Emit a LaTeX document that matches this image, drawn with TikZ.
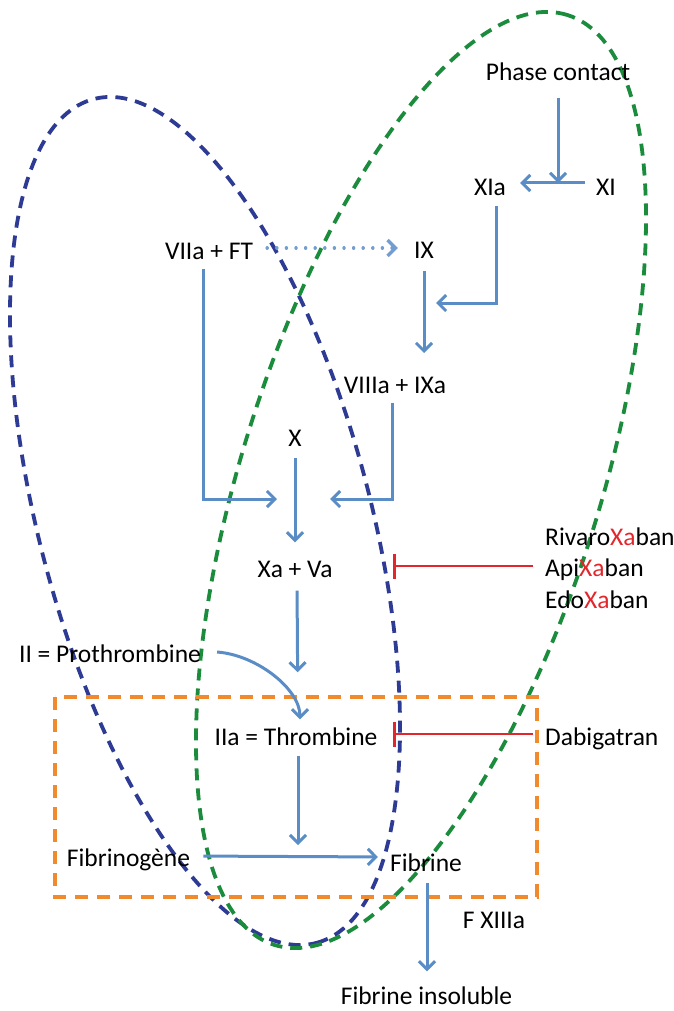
\documentclass[tikz,border=0pt]{standalone}
\usepackage{fontspec}
\setmainfont{Carlito}
\usetikzlibrary{arrows.meta}
\definecolor{arrblue}{HTML}{5A8CC6}
\definecolor{ellblue}{HTML}{2E3B94}
\definecolor{ellgreen}{HTML}{1A8C3C}
\definecolor{boxorange}{HTML}{F08A2C}
\definecolor{inhred}{HTML}{E2262B}
\begin{document}
\begin{tikzpicture}[x=1pt,y=1pt,
  font=\fontsize{25.5}{30}\selectfont,
  lbl/.style={inner sep=0pt, text height=17.5pt, text depth=5.5pt},
  arr/.style={draw=arrblue, line width=3pt, -{Straight Barb[length=8pt,width=16pt]}},
  dotarr/.style={draw=arrblue!85, line width=3.4pt, dash pattern=on 0.1pt off 9.5pt, line cap=round, -{Straight Barb[length=8pt,width=16pt]}},
  inh/.style={draw=inhred, line width=2.8pt, -{Bar[width=25pt]}},
  ell/.style={line width=3.8pt, dash pattern=on 12pt off 8pt},
  box/.style={draw=boxorange, line width=3.6pt, dash pattern=on 13pt off 9pt}
]
\useasboundingbox (0,0) rectangle (673,-1011);

% enclosing shapes
\draw[ell, draw=ellblue, rotate around={-75.2:(205,-521)}] (205,-521) ellipse [x radius=436.4pt, y radius=165.5pt];
\draw[ell, draw=ellgreen, rotate around={72.5:(421,-480)}] (421,-480) ellipse [x radius=487.5pt, y radius=179pt];
\draw[box] (55,-697) rectangle (537,-897);

% nodes
\node[lbl] (pc) at (558,-75) {Phase contact};
\node[lbl] (xia) at (490,-189.5) {XIa};
\node[lbl] (xi) at (606,-189.5) {XI};
\node[lbl] (vii) at (209,-253) {VIIa + FT};
\node[lbl] (ix) at (424,-252) {IX};
\node[lbl] (viii) at (395,-387) {VIIIa + IXa};
\node[lbl] (x) at (295,-440) {X};
\node[lbl] (xava) at (295,-571) {Xa + Va};
\node[lbl, anchor=west] (riva) at (545,-539.7) {Rivaro\textcolor{inhred}{Xa}ban};
\node[lbl, anchor=west] (api) at (545,-570) {Api\textcolor{inhred}{Xa}ban};
\node[lbl, anchor=west] (edo) at (545,-602) {Edo\textcolor{inhred}{Xa}ban};
\node[lbl] (proth) at (110,-656) {II = Prothrombine};
\node[lbl] (thr) at (296,-739) {IIa = Thrombine};
\node[lbl, anchor=west] (dab) at (545,-739) {Dabigatran};
\node[lbl] (fgn) at (128.5,-860.5) {Fibrinogène};
\node[lbl] (fib) at (426,-865) {Fibrine};
\node[lbl] (fxiii) at (494,-922.5) {F XIIIa};
\node[lbl] (fins) at (426.5,-998) {Fibrine insoluble};

% junction coordinates
\coordinate (j1) at (558,-183);
\coordinate (k1) at (436,-303);
\coordinate (k2) at (424,-353);
\coordinate (k3) at (330,-499);
\coordinate (k4) at (277,-499);
\coordinate (k6) at (298,-845);
\coordinate (r1) at (393,-566);
\coordinate (r2) at (393,-734);

% connectors
\draw[arr, shorten <=11pt] (pc.south) -- (j1);
\draw[arr, shorten <=11pt, shorten >=14pt] ([yshift=6.5pt]xi.west) -- ([yshift=6.5pt]xia.east);
\draw[arr, shorten <=5pt] ([xshift=6pt]xia.south) |- (k1);
\draw[dotarr, shorten <=14pt, shorten >=16pt] ([yshift=5pt]vii.east) -- ([yshift=4pt]ix.west);
\draw[arr, shorten <=7pt] (ix.south) -- (k2);
\draw[arr, shorten <=4pt] ([xshift=-3pt]viii.south) |- (k3);
\draw[arr, shorten <=4pt] ([xshift=-6pt]vii.south) |- (k4);
\draw[arr, shorten <=6pt, shorten >=17pt] (x.south) -- (xava.north);
\draw[arr, shorten <=8pt, shorten >=55pt] ([xshift=2pt]xava.south) -- ([xshift=2pt]thr.north);
\draw[arr] ([xshift=16pt,yshift=4pt]proth.east) .. controls +(40,-3) and +(0,30) .. ([xshift=4pt,yshift=8pt]thr.north);
\draw[arr, shorten <=5pt] ([xshift=2pt]thr.south) -- (k6);
\draw[arr, shorten <=13pt, shorten >=12pt] ([yshift=4.5pt]fgn.east) -- ([yshift=8pt]fib.west);
\draw[arr, shorten <=6pt, shorten >=15pt] ([xshift=1pt]fib.south) -- ([xshift=0.5pt]fins.north);
\draw[inh, shorten <=12pt] ([yshift=4pt]api.west) -- (r1);
\draw[inh, shorten <=12pt] ([yshift=5pt]dab.west) -- (r2);
\end{tikzpicture}
\end{document}
